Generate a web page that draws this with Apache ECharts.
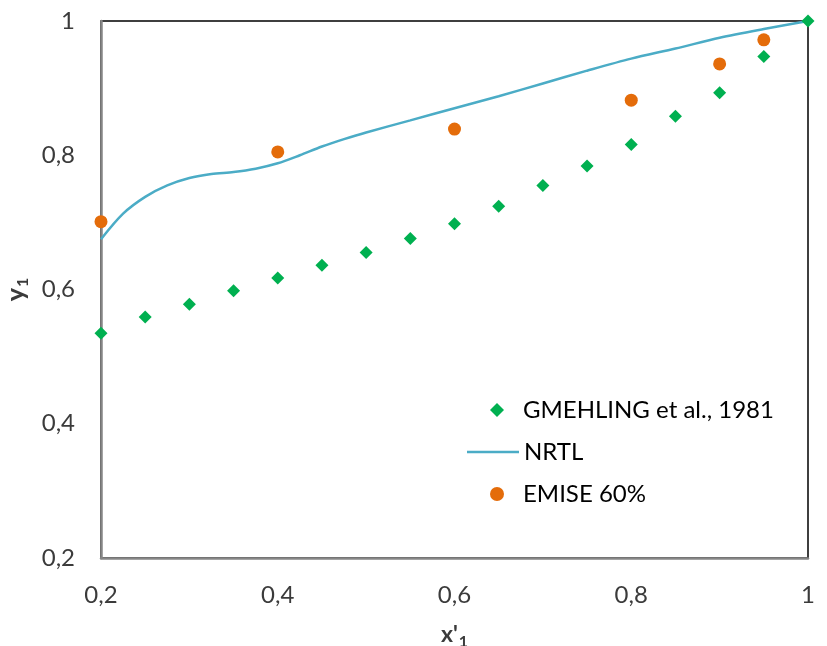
<!DOCTYPE html>
<html>
<head>
<meta charset="utf-8">
<script src="https://cdn.jsdelivr.net/npm/echarts@6/dist/echarts.min.js"></script>
<style>
  html, body { margin: 0; padding: 0; background: #fff; }
  #chart { width: 827px; height: 646px; }
</style>
</head>
<body>
<div id="chart"></div>
<script>
// Liquid mole fraction x'1 vs vapour mole fraction y1
const expX = [0.2, 0.25, 0.3, 0.35, 0.4, 0.45, 0.5, 0.55, 0.6, 0.65, 0.7, 0.75, 0.8, 0.85, 0.9, 0.95, 1.0];
const expY = [0.535, 0.559, 0.578, 0.598, 0.617, 0.636, 0.655, 0.676, 0.698, 0.724, 0.755, 0.784, 0.816, 0.858, 0.893, 0.947, 1.0];

const nrtlX = [0.2, 0.225, 0.25, 0.275, 0.3, 0.325, 0.35, 0.375, 0.4, 0.425, 0.45, 0.475, 0.5, 0.55, 0.6, 0.65, 0.7, 0.75, 0.8, 0.85, 0.9, 0.95, 1.0];
const nrtlY = [0.675, 0.713, 0.738, 0.755, 0.766, 0.772, 0.775, 0.780, 0.788, 0.800, 0.813, 0.824, 0.834, 0.852, 0.870, 0.888, 0.907, 0.926, 0.944, 0.959, 0.975, 0.988, 1.0];

const emiseX = [0.2, 0.4, 0.6, 0.8, 0.9, 0.95];
const emiseY = [0.701, 0.805, 0.839, 0.882, 0.936, 0.972];

const tickLabels = { 0.2: '0,2', 0.4: '0,4', 0.6: '0,6', 0.8: '0,8', 1: '1' };

const seriesNames = ['GMEHLING et al., 1981', 'NRTL', 'EMISE 60%'];

const zip = (xs, ys) => xs.map((x, i) => [x, ys[i]]);

const FONT = 'Lato';
const labelColor = '#3b3b3b';
const legendText = { fontFamily: FONT, fontSize: 24, color: '#000', lineHeight: 26 };

// One legend block per entry so each key can have its own icon size
function legendEntry(name, icon, left, centerY, w, h, textPad) {
  return {
    left: left, top: centerY - 13, padding: 0,
    orient: 'vertical',
    itemWidth: w, itemHeight: h,
    textStyle: Object.assign({ padding: [0, 0, 0, textPad] }, legendText),
    data: [{ name: name, icon: icon }]
  };
}

const chart = echarts.init(document.getElementById('chart'), null, { renderer: 'canvas' });

chart.setOption({
  animation: false,
  backgroundColor: '#ffffff',
  grid: {
    left: 101, right: 19, top: 21, bottom: 88,
    outerBoundsMode: 'none', containLabel: false,
    show: true, borderColor: '#000000', borderWidth: 1.5, backgroundColor: 'transparent'
  },
  legend: [
    legendEntry(seriesNames[0], 'diamond', 490, 410, 14, 14, 14),
    legendEntry(seriesNames[1], 'rect', 467, 452, 52, 2.5, 0),
    legendEntry(seriesNames[2], 'circle', 490, 494, 14, 14, 14)
  ],
  xAxis: {
    type: 'value', min: 0.2, max: 1, interval: 0.2,
    name: '{b|x\'}{s|1}', nameLocation: 'middle', nameGap: 62,
    nameTextStyle: {
      rich: {
        b: { fontFamily: FONT, fontWeight: 'bold', fontSize: 23, color: '#3b3b3b' },
        s: { fontFamily: FONT, fontWeight: 'bold', fontSize: 16, color: '#3b3b3b', padding: [14, 0, 0, 1] }
      }
    },
    axisLine: { show: true, lineStyle: { color: '#868686', width: 2.5 } },
    axisTick: { show: false },
    splitLine: { show: false },
    axisLabel: {
      margin: 25, fontFamily: FONT, fontSize: 24, color: labelColor,
      formatter: v => tickLabels[Math.round(v * 10) / 10] || ''
    }
  },
  yAxis: {
    type: 'value', min: 0.2, max: 1, interval: 0.2,
    name: '{b|y}{s|1}', nameLocation: 'middle', nameGap: 68, nameRotate: 90,
    nameTextStyle: {
      rich: {
        b: { fontFamily: FONT, fontWeight: 'bold', fontSize: 25, color: '#3b3b3b' },
        s: { fontFamily: FONT, fontWeight: 'bold', fontSize: 16, color: '#3b3b3b', padding: [14, 0, 0, 1] }
      }
    },
    axisLine: { show: true, lineStyle: { color: '#868686', width: 2.5 } },
    axisTick: { show: false },
    splitLine: { show: false },
    axisLabel: {
      margin: 26, fontFamily: FONT, fontSize: 24, color: labelColor,
      formatter: v => tickLabels[Math.round(v * 10) / 10] || ''
    }
  },
  series: [
    {
      name: seriesNames[0], type: 'scatter', symbol: 'diamond', symbolSize: 13,
      itemStyle: { color: '#00B050', opacity: 1 },
      data: zip(expX, expY), z: 4
    },
    {
      name: seriesNames[1], type: 'line', symbol: 'none', smooth: 0.3,
      lineStyle: { color: '#4BACC6', width: 2.5 },
      itemStyle: { color: '#4BACC6' },
      data: zip(nrtlX, nrtlY), z: 3
    },
    {
      name: seriesNames[2], type: 'scatter', symbol: 'circle', symbolSize: 13,
      itemStyle: { color: '#E46C0A', opacity: 1 },
      data: zip(emiseX, emiseY), z: 5
    }
  ]
});
</script>
</body>
</html>
